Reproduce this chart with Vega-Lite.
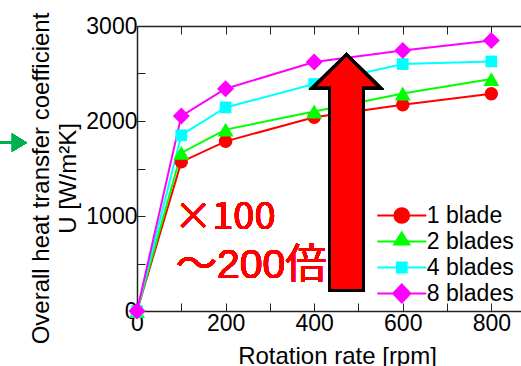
{
  "$schema": "https://vega.github.io/schema/vega-lite/v6.json",
  "width": 384,
  "height": 285,
  "autosize": {"type": "none"},
  "padding": {"left": 137, "top": 26, "right": 0, "bottom": 55},
  "background": "white",
  "config": {
    "view": {"stroke": null},
    "font": "Liberation Sans",
    "axis": {
      "domainColor": "#222",
      "domainWidth": 1.5,
      "tickColor": "#222",
      "tickWidth": 1,
      "tickSize": -8,
      "grid": false,
      "labelFont": "Liberation Sans",
      "labelFontSize": 23,
      "labelColor": "black",
      "labelFlush": false,
      "labelOverlap": false,
      "labelPadding": 4,
      "titleFont": "Liberation Sans",
      "titleFontSize": 24,
      "titleFontWeight": "normal",
      "titleColor": "black"
    },
    "legend": {
      "orient": "none",
      "legendX": 251.25,
      "legendY": 176,
      "padding": 0,
      "symbolSize": 256,
      "symbolStrokeWidth": 2,
      "labelOffset": 11.5,
      "rowPadding": -3.5,
      "labelFont": "Liberation Sans",
      "labelFontSize": 23,
      "labelColor": "black",
      "labelLimit": 0
    }
  },
  "data": {
    "values": [
      {"series": "1 blade", "rpm": 0, "U": 0},
      {"series": "1 blade", "rpm": 100, "U": 1570},
      {"series": "1 blade", "rpm": 200, "U": 1786},
      {"series": "1 blade", "rpm": 400, "U": 2040},
      {"series": "1 blade", "rpm": 600, "U": 2171},
      {"series": "1 blade", "rpm": 800, "U": 2287},
      {"series": "2 blades", "rpm": 0, "U": 0},
      {"series": "2 blades", "rpm": 100, "U": 1665},
      {"series": "2 blades", "rpm": 200, "U": 1909},
      {"series": "2 blades", "rpm": 400, "U": 2100},
      {"series": "2 blades", "rpm": 600, "U": 2290},
      {"series": "2 blades", "rpm": 800, "U": 2441},
      {"series": "4 blades", "rpm": 0, "U": 0},
      {"series": "4 blades", "rpm": 100, "U": 1850},
      {"series": "4 blades", "rpm": 200, "U": 2143},
      {"series": "4 blades", "rpm": 400, "U": 2389},
      {"series": "4 blades", "rpm": 600, "U": 2599},
      {"series": "4 blades", "rpm": 800, "U": 2627},
      {"series": "8 blades", "rpm": 0, "U": 0},
      {"series": "8 blades", "rpm": 100, "U": 2052},
      {"series": "8 blades", "rpm": 200, "U": 2340},
      {"series": "8 blades", "rpm": 400, "U": 2620},
      {"series": "8 blades", "rpm": 600, "U": 2742},
      {"series": "8 blades", "rpm": 800, "U": 2847}
    ]
  },
  "layer": [
    {
      "mark": {"type": "line", "strokeWidth": 2},
      "encoding": {
        "x": {
          "field": "rpm", "type": "quantitative",
          "scale": {"domain": [0, 867], "nice": false},
          "axis": {
            "orient": "bottom",
            "values": [0, 100, 200, 300, 400, 500, 600, 700, 800],
            "labelExpr": "datum.value % 200 === 0 ? datum.label : ''",
            "labelPadding": 9,
            "title": "Rotation rate [rpm]",
            "titleX": 200,
            "titleY": 52,
            "titleBaseline": "alphabetic"
          }
        },
        "y": {
          "field": "U", "type": "quantitative",
          "scale": {"domain": [0, 3000], "nice": false},
          "axis": {
            "values": [0, 500, 1000, 1500, 2000, 2500, 3000],
            "labelExpr": "datum.value % 1000 === 0 ? datum.label : ''",
            "labelPadding": 8,
            "format": "d",
            "title": ["Overall heat transfer coefficient", "U [W/m²K]"],
            "titleAngle": -90,
            "titleAlign": "center",
            "titleBaseline": "top",
            "titleX": -108,
            "titleY": 152,
            "titleLineHeight": 27
          }
        },
        "color": {
          "field": "series", "type": "nominal",
          "scale": {"domain": ["1 blade", "2 blades", "4 blades", "8 blades"], "range": ["#ff0000", "#00ff00", "#00ffff", "#ff00ff"]},
          "legend": {
            "title": null,
            "encode": {
              "symbols": {
                "update": {
                  "shape": {"signal": "datum.value === '1 blade' ? 'M-2,0H2M-0.6,0A0.6,0.6,0,1,1,0.6,0A0.6,0.6,0,1,1,-0.6,0Z' : datum.value === '2 blades' ? 'M-2,0H2M0,-0.74L0.62,0.24L-0.62,0.24Z' : datum.value === '4 blades' ? 'M-2,0H2M-0.4,-0.4H0.4V0.4H-0.4Z' : 'M-2,0H2M0,-0.74L0.7,0L0,0.74L-0.7,0Z'"},
                  "size": {"value": 600},
                  "strokeWidth": {"value": 2},
                  "fill": {"scale": "color", "field": "value"},
                  "stroke": {"scale": "color", "field": "value"},
                  "opacity": {"value": 1}
                }
              }
            }
          }
        }
      }
    },
    {
      "transform": [{"filter": "datum.series === '1 blade'"}],
      "mark": {"type": "point", "shape": "circle", "size": 182, "filled": true, "color": "#ff0000", "opacity": 1, "strokeWidth": 0},
      "encoding": {
        "x": {
          "field": "rpm", "type": "quantitative",
          "axis": {
            "orient": "top",
            "values": [0, 100, 200, 300, 400, 500, 600, 700, 800],
            "labels": false,
            "title": null
          }
        },
        "y": {"field": "U", "type": "quantitative"}
      }
    },
    {
      "transform": [{"filter": "datum.series === '2 blades'"}],
      "mark": {"type": "point", "shape": "triangle-up", "size": 256, "filled": true, "color": "#00ff00", "opacity": 1, "strokeWidth": 0},
      "encoding": {
        "x": {"field": "rpm", "type": "quantitative", "axis": null},
        "y": {"field": "U", "type": "quantitative"}
      }
    },
    {
      "transform": [{"filter": "datum.series === '4 blades'"}],
      "mark": {"type": "point", "shape": "square", "size": 137, "filled": true, "color": "#00ffff", "opacity": 1, "strokeWidth": 0},
      "encoding": {
        "x": {"field": "rpm", "type": "quantitative", "axis": null},
        "y": {"field": "U", "type": "quantitative"}
      }
    },
    {
      "transform": [{"filter": "datum.series === '8 blades'"}],
      "mark": {"type": "point", "shape": "diamond", "size": 289, "filled": true, "color": "#ff00ff", "opacity": 1, "strokeWidth": 0},
      "encoding": {
        "x": {"field": "rpm", "type": "quantitative", "axis": null},
        "y": {"field": "U", "type": "quantitative"}
      }
    },
    {
      "mark": {
        "type": "point",
        "shape": "M0,-1L0.284,-0.718L0.144,-0.718L0.144,1L-0.144,1L-0.144,-0.718L-0.284,-0.718Z",
        "size": 55696,
        "filled": true,
        "fill": "#ff0000",
        "stroke": "#000000",
        "strokeWidth": 3,
        "opacity": 1
      },
      "encoding": {
        "x": {"datum": 473, "type": "quantitative", "axis": null},
        "y": {"datum": 1457, "type": "quantitative"}
      }
    },
    {
      "mark": {
        "type": "point",
        "shape": "M-1,-0.074L-0.11,-0.074L-0.11,-0.67L1,0L-0.11,0.67L-0.11,0.074L-1,0.074Z",
        "size": 729,
        "filled": true,
        "fill": "#00b050",
        "strokeWidth": 0,
        "opacity": 1
      },
      "encoding": {
        "x": {"datum": -279, "type": "quantitative", "axis": null},
        "y": {"datum": 1772, "type": "quantitative"}
      }
    },
    {
      "mark": {"type": "text", "text": "×100", "align": "left", "baseline": "alphabetic", "fontSize": 38, "font": "Noto Sans CJK JP", "color": "#ff0000"},
      "encoding": {
        "x": {"datum": 84, "type": "quantitative", "axis": null},
        "y": {"datum": 858, "type": "quantitative"}
      }
    },
    {
      "mark": {"type": "text", "text": "～200倍", "align": "left", "baseline": "alphabetic", "fontSize": 41, "font": "Liberation Sans, Noto Sans CJK JP", "color": "#ff0000"},
      "encoding": {
        "x": {"datum": 88, "type": "quantitative", "axis": null},
        "y": {"datum": 351, "type": "quantitative"}
      }
    }
  ],
  "resolve": {"axis": {"x": "independent"}}
}
